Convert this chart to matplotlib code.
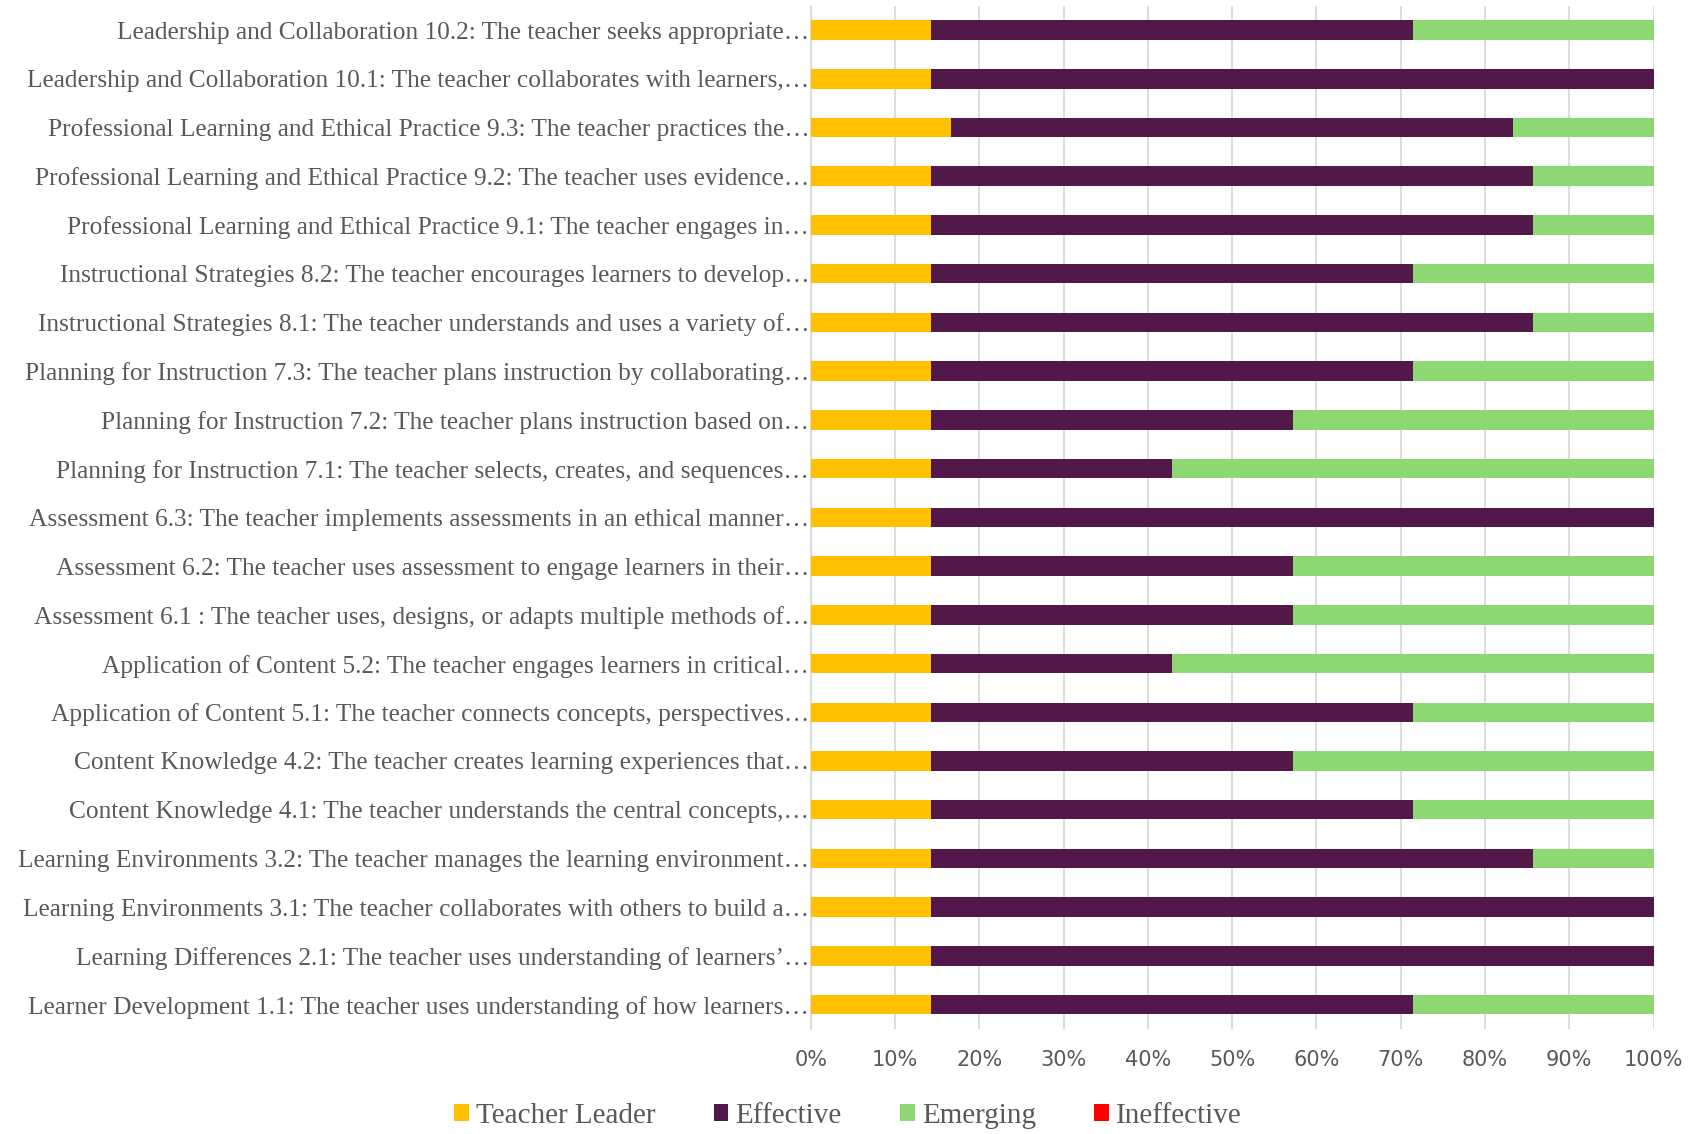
import numpy as np
import matplotlib.pyplot as plt
from matplotlib import font_manager

# categories, bottom to top as drawn
labels = [
    "Learner Development 1.1: The teacher uses understanding of how learners\u2026",
    "Learning Differences 2.1: The teacher uses understanding of learners\u2019\u2026",
    "Learning Environments 3.1: The teacher collaborates with others to build a\u2026",
    "Learning Environments 3.2: The teacher manages the learning environment\u2026",
    "Content Knowledge 4.1: The teacher understands the central concepts,\u2026",
    "Content Knowledge 4.2: The teacher creates learning experiences that\u2026",
    "Application of Content 5.1: The teacher connects concepts, perspectives\u2026",
    "Application of Content 5.2: The teacher engages learners in critical\u2026",
    "Assessment 6.1 : The teacher uses, designs, or adapts multiple methods of\u2026",
    "Assessment 6.2: The teacher uses assessment to engage learners in their\u2026",
    "Assessment 6.3: The teacher implements assessments in an ethical manner\u2026",
    "Planning for Instruction 7.1: The teacher selects, creates, and sequences\u2026",
    "Planning for Instruction 7.2: The teacher plans instruction based on\u2026",
    "Planning for Instruction 7.3: The teacher plans instruction by collaborating\u2026",
    "Instructional Strategies 8.1: The teacher understands and uses a variety of\u2026",
    "Instructional Strategies 8.2: The teacher encourages learners to develop\u2026",
    "Professional Learning and Ethical Practice 9.1: The teacher engages in\u2026",
    "Professional Learning and Ethical Practice 9.2: The teacher uses evidence\u2026",
    "Professional Learning and Ethical Practice 9.3: The teacher practices the\u2026",
    "Leadership and Collaboration 10.1: The teacher collaborates with learners,\u2026",
    "Leadership and Collaboration 10.2: The teacher seeks appropriate\u2026",
]

# percent of ratings per level
teacher_leader = [14.3, 14.3, 14.3, 14.3, 14.3, 14.3, 14.3, 14.3, 14.3, 14.3, 14.3,
                  14.3, 14.3, 14.3, 14.3, 14.3, 14.3, 14.3, 16.7, 14.3, 14.3]
effective = [57.1, 85.7, 85.7, 71.4, 57.1, 42.9, 57.1, 28.6, 42.9, 42.9, 85.7,
             28.6, 42.9, 57.1, 71.4, 57.1, 71.4, 71.4, 66.6, 85.7, 57.1]
emerging = [28.6, 0.0, 0.0, 14.3, 28.6, 42.9, 28.6, 57.1, 42.9, 42.9, 0.0,
            57.1, 42.9, 28.6, 14.3, 28.6, 14.3, 14.3, 16.7, 0.0, 28.6]
ineffective = [0.0] * 21

levels = ["Teacher Leader", "Effective", "Emerging", "Ineffective"]
colors = ["#FFC000", "#511849", "#8ED873", "#FF0000"]

installed = {f.name for f in font_manager.fontManager.ttflist}
tick_font = "Liberation Sans Narrow" if "Liberation Sans Narrow" in installed else "DejaVu Sans"
serif = "Liberation Serif"
grey = "#595959"

fig = plt.figure(figsize=(16.96, 11.34), dpi=100)
ax = fig.add_axes([0.478, 0.0926, 0.497, 0.9024])

y = np.arange(len(labels))
left = np.zeros(len(labels))
for name, vals, c in zip(levels, [teacher_leader, effective, emerging, ineffective], colors):
    vals = np.array(vals)
    ax.barh(y, vals, left=left, height=0.4, color=c, label=name, zorder=3)
    left += vals

ax.set_xlim(0, 100)
ax.set_ylim(-0.5, len(labels) - 0.5)
ax.set_xticks(np.arange(0, 101, 10))
ax.set_xticklabels([f"{v}%" for v in range(0, 101, 10)], fontfamily=tick_font,
                   fontsize=15, color=grey)
ax.set_yticks(y)
ax.set_yticklabels(labels, fontfamily=serif, fontsize=18.3, color=grey)
ax.tick_params(axis="both", length=0)
ax.tick_params(axis="x", pad=15)
ax.tick_params(axis="y", pad=1)
ax.grid(axis="x", color="#D9D9D9", linewidth=1.3, zorder=0)
for s in ["top", "right", "bottom"]:
    ax.spines[s].set_visible(False)
ax.spines["left"].set_color("#D9D9D9")
ax.spines["left"].set_linewidth(1.3)

leg = fig.legend(loc="center", bbox_to_anchor=(0.5, 0.016), ncol=4, frameon=False,
                 prop={"family": serif, "size": 21}, handlelength=0.5, handleheight=0.5,
                 handletextpad=0.25, columnspacing=2.0)
for t in leg.get_texts():
    t.set_color(grey)

fig.savefig("out.png", dpi=100)
